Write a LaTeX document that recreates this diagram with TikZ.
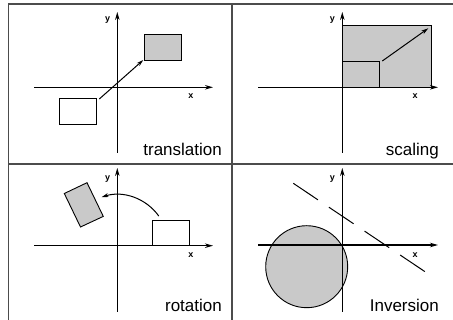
\documentclass[tikz,border=0pt]{standalone}
\usepackage{fontspec}
\setmainfont{Liberation Sans}
\usetikzlibrary{arrows.meta}
\definecolor{shade}{gray}{0.79}
\definecolor{frame}{gray}{0.3}
\tikzset{
  axis/.style={line width=1.4pt, black, -{Stealth[length=8pt,width=4.5pt]}},
  yaxis/.style={line width=1pt, black, -{Stealth[length=8pt,width=4.5pt]}},
  figline/.style={draw=black, line width=0.9pt},
  mover/.style={line width=1pt, black, -{Stealth[length=7pt,width=4pt]}},
  axlabel/.style={font=\bfseries\fontsize{9}{10}\selectfont, inner sep=0pt},
  caption/.style={font=\fontsize{17}{19}\selectfont, anchor=base east, inner sep=0pt},
  gridline/.style={draw=frame, line width=1.6pt}
}
\begin{document}
\begin{tikzpicture}[x=1pt,y=-1pt]
\useasboundingbox (0,0) rectangle (453,320);
\clip (0,0) rectangle (453,320);
% frame
\draw[gridline] (8.5,4) rectangle (456,326);
\draw[gridline] (231.7,4) -- (231.7,326);
\draw[gridline] (8.5,164) -- (456,164);

% ---------- translation ----------
\draw[figline, fill=white] (59.3,98.3) rectangle (96.7,124) ;
\draw[figline, fill=shade] (144,34.3) rectangle (181,60);
\coordinate (tA) at (99.3,99);
\coordinate (tB) at (143.3,60);
\draw[yaxis] (117.3,153) -- (117.3,12);
\draw[axis] (34,87.3) -- (213,87.3);
\draw[mover] (tA) -- (tB);
\node[axlabel] (ty) at (107.7,20) {y};
\node[axlabel] (tx) at (191,96) {x};
\node[caption] (tt) at (222,156) {translation};

% ---------- scaling ----------
\draw[figline, fill=shade] (342.3,25.3) rectangle (431.7,87.3);
\draw[figline] (342.3,61.7) rectangle (379,87.3);
\draw[yaxis] (342.3,153) -- (342.3,12);
\draw[axis] (258.3,87.3) -- (438,87.3);
\coordinate (sA) at (382.3,61);
\coordinate (sB) at (428.3,28.3);
\draw[mover] (sA) -- (sB);
\node[axlabel] (sy) at (332.3,20) {y};
\node[axlabel] (sx) at (415,96) {x};
\node[caption] (st) at (439,156) {scaling};

% ---------- rotation ----------
\draw[figline, fill=shade] (64.3,193.5) -- (87,182.7) -- (103.3,216.4) -- (80.5,227) -- cycle;
\draw[figline] (152.3,245.7) rectangle (189.3,220.7);
\draw[yaxis] (117.3,311.7) -- (117.3,168);
\draw[axis] (34,245.7) -- (213,245.7);
\draw[mover] ([shift={(35.5:51pt)}]117.3,245.7) arc[start angle=35.5, end angle=108, radius=51pt];
\node[axlabel] (ry) at (107.7,179.3) {y};
\node[axlabel] (rx) at (191,255) {x};
\node[caption] (rt) at (222,312) {rotation};

% ---------- inversion ----------
\draw[figline, fill=shade] (306.7,266.7) circle[radius=41pt];
\draw[yaxis] (342.3,311.7) -- (342.3,168);
\draw[axis] (258.3,245) -- (438,245);
\coordinate (iA) at (293.3,183.3);
\coordinate (iB) at (425,271.7);
\draw[line width=1pt, black, dash pattern=on 29.7pt off 13.2pt] (iA) -- (iB);
\node[axlabel] (iy) at (332.3,179.3) {y};
\node[axlabel] (ix) at (415,255) {x};
\node[caption] (it) at (439,312) {Inversion};
\end{tikzpicture}
\end{document}
